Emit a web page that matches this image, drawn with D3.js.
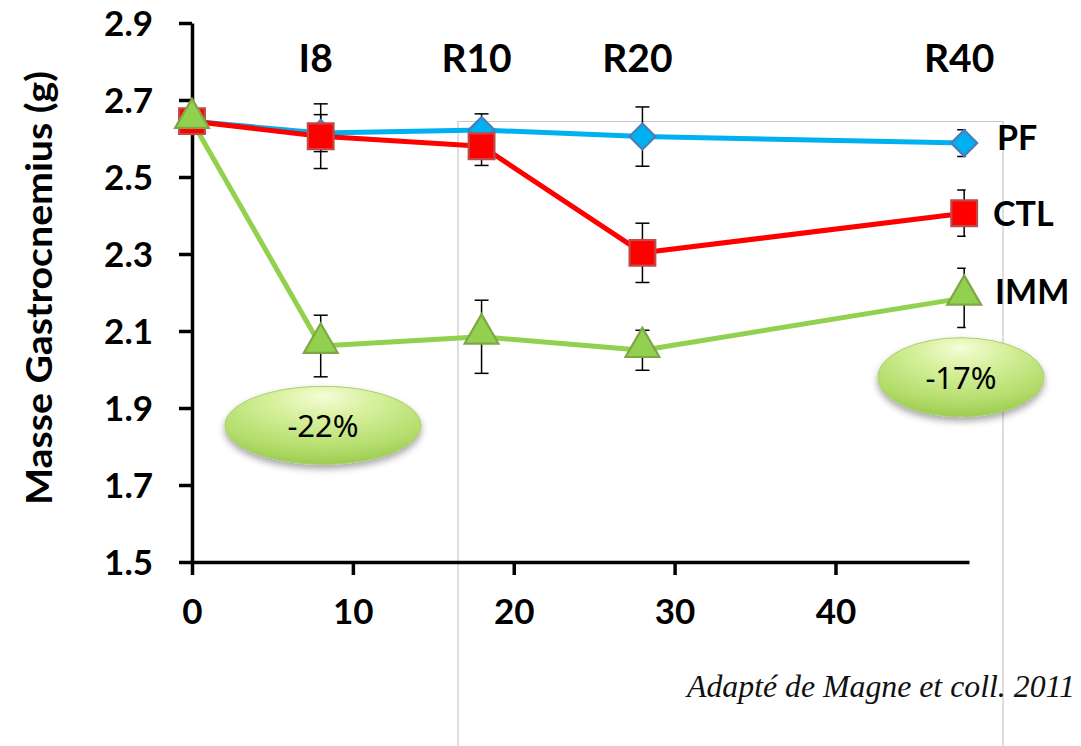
<!DOCTYPE html>
<html>
<head>
<meta charset="utf-8">
<script src="https://cdn.jsdelivr.net/npm/d3@7"></script>
<style>
  html, body { margin: 0; padding: 0; background: #fff; }
  svg { display: block; }
  text { font-family: Lato, "Open Sans", sans-serif; }
</style>
</head>
<body>
<svg id="chart" width="1081" height="746"></svg>
<script>
// Days after the start of the protocol
const days = [0, 8, 18, 28, 48];

// Gastrocnemius mass (g) and error per group
const pfValues  = [2.645, 2.614, 2.622, 2.605, 2.588];
const pfErr     = [0, 0.048, 0.042, 0.077, 0.035];
const ctlValues = [2.645, 2.606, 2.580, 2.303, 2.406];
const ctlErr    = [0, 0.084, 0.050, 0.077, 0.060];
const immValues = [2.645, 2.061, 2.085, 2.050, 2.186];
const immErr    = [0, 0.080, 0.095, 0.052, 0.077];

const seriesNames = ["PF", "CTL", "IMM"];

// Phase labels above the plot
const phaseLabels = ["I8", "R10", "R20", "R40"];
const phaseDays   = [8, 18, 28, 48];

// Axis ticks
const yTicks = [1.5, 1.7, 1.9, 2.1, 2.3, 2.5, 2.7, 2.9];
const xTicks = [0, 10, 20, 30, 40];

// Percentage loss call-outs
const calloutText = ["-22%", "-17%"];
const calloutVal  = [1.855, 1.98];

const svg = d3.select("#chart");

const x = d3.scaleLinear().domain([0, 48.3]).range([192, 969]);
const y = d3.scaleLinear().domain([1.5, 2.9]).range([562, 23]);

const defs = svg.append("defs");

// Thin grey frame behind the plot
svg.append("path")
  .attr("d", "M458,746 V121.5 H1003 V746")
  .attr("fill", "none")
  .attr("stroke", "#c8c8c8")
  .attr("stroke-width", 1.2);

// Axes
const yAxis = d3.axisLeft(y).tickValues(yTicks).tickFormat(d3.format(".1f"))
  .tickSizeInner(13).tickSizeOuter(0).tickPadding(26);
const xAxis = d3.axisBottom(x).tickValues(xTicks).tickFormat(d3.format("d"))
  .tickSizeInner(13).tickSizeOuter(0).tickPadding(27);

const gy = svg.append("g").attr("transform", `translate(${x(0)},0)`).call(yAxis);
const gx = svg.append("g").attr("transform", `translate(0,${y(1.5)})`).call(xAxis);

[gx, gy].forEach(g => {
  g.select(".domain").attr("stroke", "#000").attr("stroke-width", 3.5);
  g.selectAll(".tick line").attr("stroke", "#000").attr("stroke-width", 3.5);
  g.selectAll(".tick text")
    .attr("fill", "#000")
    .style("font-family", "Lato, sans-serif")
    .style("font-weight", "bold")
    .style("font-size", "35px");
});
gy.selectAll(".tick text").attr("dy", "0.36em");
gx.selectAll(".tick text").attr("dy", "0.62em");

// Y axis title
svg.append("text")
  .attr("transform", `translate(52,288) rotate(-90)`)
  .attr("text-anchor", "middle")
  .style("font-weight", "bold")
  .style("font-size", "36px")
  .attr("textLength", 434)
  .attr("lengthAdjust", "spacingAndGlyphs")
  .attr("fill", "#000")
  .text("Masse Gastrocnemius (g)");

// Series definitions
const series = [
  { name: seriesNames[0], values: pfValues,  err: pfErr,  line: "#00B0F0", fill: "#00B0F0", stroke: "#4A7EBB", shape: "diamond" },
  { name: seriesNames[1], values: ctlValues, err: ctlErr, line: "#FF0000", fill: "#FF0000", stroke: "#BE4B48", shape: "square" },
  { name: seriesNames[2], values: immValues, err: immErr, line: "#92D050", fill: "#92D050", stroke: "#7FA645", shape: "triangle" }
];

const line = d3.line().x(d => x(d.day)).y(d => y(d.v));

// Lines, later series drawn on top
series.forEach(s => {
  const pts = days.map((d, i) => ({ day: d, v: s.values[i] }));
  svg.append("path")
    .datum(pts)
    .attr("d", line)
    .attr("fill", "none")
    .attr("stroke", s.line)
    .attr("stroke-width", 5)
    .attr("stroke-linejoin", "round");
});

// Error bars, clipped at the right edge of the plot area
defs.append("clipPath").attr("id", "plotClip")
  .append("rect").attr("x", 0).attr("y", 0).attr("width", x(48) + 1.5).attr("height", 746);

const eb = svg.append("g").attr("clip-path", "url(#plotClip)");
series.forEach(s => {
  days.forEach((d, i) => {
    const e = s.err[i];
    if (!e) return;
    const cx = x(d), y0 = y(s.values[i] - e), y1 = y(s.values[i] + e);
    eb.append("line").attr("x1", cx).attr("x2", cx).attr("y1", y0).attr("y2", y1)
      .attr("stroke", "#000").attr("stroke-width", 1.5);
    [y0, y1].forEach(yy => {
      eb.append("line").attr("x1", cx - 7).attr("x2", cx + 7).attr("y1", yy).attr("y2", yy)
        .attr("stroke", "#000").attr("stroke-width", 1.5);
    });
  });
});

// Markers
const symbolPath = {
  diamond: d3.symbol().type(d3.symbolDiamond2).size(430)(),
  square: d3.symbol().type(d3.symbolSquare).size(660)(),
  triangle: d3.symbol().type(d3.symbolTriangle2).size(820)()
};
series.forEach(s => {
  days.forEach((d, i) => {
    const off = s.shape === "triangle" ? -3 : 0;
    svg.append("path")
      .attr("d", symbolPath[s.shape])
      .attr("transform", `translate(${x(d)},${y(s.values[i]) + off})`)
      .attr("fill", s.fill)
      .attr("stroke", s.stroke)
      .attr("stroke-width", 2.2)
      .attr("stroke-linejoin", "miter");
  });
});

// Series names at the right end
const nameY = [150, 226, 304];
const nameX = [997, 993, 995];
series.forEach((s, i) => {
  svg.append("text")
    .attr("x", nameX[i]).attr("y", nameY[i])
    .style("font-weight", "bold").style("font-size", "34px")
    .attr("fill", "#000")
    .text(s.name);
});

// Phase labels
phaseLabels.forEach((t, i) => {
  svg.append("text")
    .attr("x", x(phaseDays[i]) - 5).attr("y", 72)
    .attr("text-anchor", "middle")
    .style("font-weight", "bold").style("font-size", "39px")
    .attr("fill", "#000")
    .text(t);
});

// Call-out ellipses
const grad = defs.append("radialGradient").attr("id", "ovalFill")
  .attr("cx", "50%").attr("cy", "25%").attr("r", "75%").attr("fx", "50%").attr("fy", "12%");
grad.append("stop").attr("offset", "0%").attr("stop-color", "#f5fdd8");
grad.append("stop").attr("offset", "35%").attr("stop-color", "#d6f09c");
grad.append("stop").attr("offset", "80%").attr("stop-color", "#b2dc6a");
grad.append("stop").attr("offset", "100%").attr("stop-color", "#9ccc50");

const shadow = defs.append("filter").attr("id", "ovalShadow")
  .attr("x", "-20%").attr("y", "-20%").attr("width", "140%").attr("height", "160%");
shadow.append("feDropShadow").attr("dx", 0).attr("dy", 4).attr("stdDeviation", 3.5)
  .attr("flood-color", "#000").attr("flood-opacity", 0.35);

const ovalRx = [98, 83], ovalRy = [39, 39.5];
const ovalCx = [323, 961];
calloutText.forEach((t, i) => {
  const cy = y(calloutVal[i]);
  svg.append("ellipse")
    .attr("cx", ovalCx[i]).attr("cy", cy)
    .attr("rx", ovalRx[i]).attr("ry", ovalRy[i])
    .attr("fill", "url(#ovalFill)")
    .attr("stroke", "#a9cf6a").attr("stroke-width", 1)
    .attr("filter", "url(#ovalShadow)");
  svg.append("text")
    .attr("x", ovalCx[i]).attr("y", cy + 12)
    .attr("text-anchor", "middle")
    .style("font-family", "'Noto Sans', sans-serif")
    .style("font-size", "31px")
    .attr("fill", "#000")
    .text(t);
});

// Source note
svg.append("text")
  .attr("x", 1075).attr("y", 697)
  .attr("text-anchor", "end")
  .style("font-family", "'Liberation Serif', serif")
  .style("font-style", "italic")
  .style("font-size", "31px")
  .attr("textLength", 388)
  .attr("lengthAdjust", "spacingAndGlyphs")
  .attr("fill", "#111")
  .text("Adapté de Magne et coll. 2011");
</script>
</body>
</html>
